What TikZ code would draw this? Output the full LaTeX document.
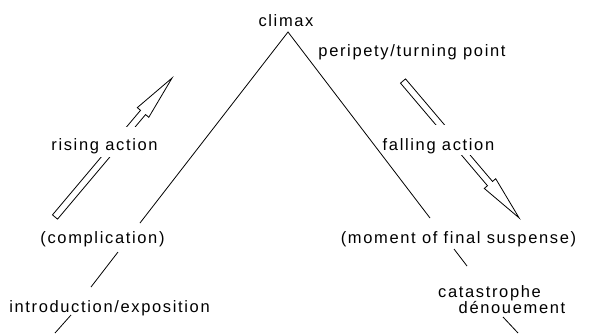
\documentclass[tikz,border=0pt]{standalone}
\usepackage{fontspec}
\setmainfont{Liberation Sans}[LetterSpace=10]
\newcommand\hollowarr[3]{%
  \begin{scope}[shift={#1}, rotate=#2]
    \draw[line join=miter] (0,-3.3) -- ({#3-45},-3.3) -- ({#3-45},-7.5) -- (#3,0)
      -- ({#3-45},7.5) -- ({#3-45},3.3) -- (0,3.3) -- cycle;
  \end{scope}}
\begin{document}
\begin{tikzpicture}[x=1pt,y=-1pt,line width=0.8pt,
  lbl/.style={font=\fontsize{16.5}{18}\selectfont, inner sep=0pt, anchor=base}]
\useasboundingbox (0,0) rectangle (589,333);
% hollow arrows
\hollowarr{(55,217)}{49.9}{181.7}
\hollowarr{(403,81)}{-49.7}{179.5}
\fill[white] (95,127) rectangle (150,157);
\fill[white] (425,125) rectangle (485,155);
% main triangle
\coordinate (apex) at (288,32);
\coordinate (lend) at (140,223);
\coordinate (rend) at (430,218);
\draw (lend) -- (apex) -- (rend);
% labels
\node[lbl] (climax) at (286,26) {climax};
\node[lbl] (peri) at (412,56) {peripety/turning point};
\node[lbl] (rise) at (104.5,150) {rising action};
\node[lbl] (fall) at (438.5,150) {falling action};
\node[lbl] (compl) at (102.5,243) {(complication)};
\node[lbl] (moment) at (458.5,243) {(moment of final suspense)};
\node[lbl] (cata) at (489.5,297) {catastrophe};
\node[lbl] (deno) at (512,313) {dénouement};
\node[lbl] (intro) at (109.5,312) {introduction/exposition};
% small connectors
\coordinate (c1) at (118,252); \coordinate (c2) at (91,287);
\coordinate (i1) at (71,315);  \coordinate (i2) at (55,333);
\coordinate (m1) at (454,249); \coordinate (m2) at (467,266);
\coordinate (d1) at (503,317); \coordinate (d2) at (518,333);
\draw (c1) -- (c2);
\draw (i1) -- (i2);
\draw (m1) -- (m2);
\draw (d1) -- (d2);
\end{tikzpicture}
\end{document}
